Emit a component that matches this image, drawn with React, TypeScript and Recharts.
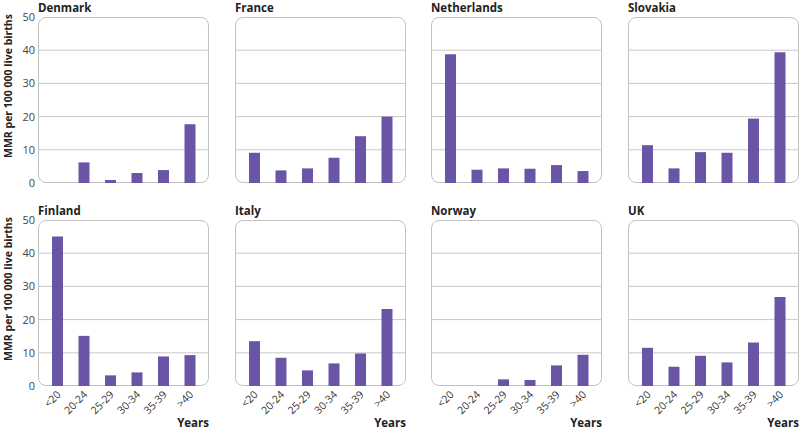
import { BarChart, Bar, XAxis, YAxis, CartesianGrid, Label } from 'recharts';

const ageGroups = ['<20', '20-24', '25-29', '30-34', '35-39', '>40'];
const yTicks = [0, 10, 20, 30, 40, 50];

const denmark = [null, 6.2, 0.9, 3.0, 3.9, 17.7];
const france = [9.1, 3.8, 4.4, 7.6, 14.1, 20.0];
const netherlands = [38.8, 4.0, 4.4, 4.3, 5.4, 3.6];
const slovakia = [11.4, 4.4, 9.3, 9.1, 19.4, 39.4];
const finland = [45.0, 15.1, 3.2, 4.1, 8.9, 9.3];
const italy = [13.5, 8.5, 4.7, 6.8, 9.8, 23.2];
const norway = [null, null, 2.0, 1.8, 6.2, 9.4];
const uk = [11.5, 5.8, 9.1, 7.1, 13.1, 26.8];

const panels = [
  { name: 'Denmark', values: denmark },
  { name: 'France', values: france },
  { name: 'Netherlands', values: netherlands },
  { name: 'Slovakia', values: slovakia },
  { name: 'Finland', values: finland },
  { name: 'Italy', values: italy },
  { name: 'Norway', values: norway },
  { name: 'UK', values: uk },
];

const FONT = '"Open Sans", sans-serif';
const PURPLE = '#6a54a5';
const BOX_W = 171;
const BOX_H = 166;
const COL_X = [38, 235, 431, 628];
const ROW_Y = [17, 220];
const Y_AXIS_W = 38;
const TOP_PAD = 8;

const YLabel = ({ viewBox }: any) => {
  const cx = viewBox.x + 8;
  const cy = viewBox.y + viewBox.height / 2 - 14;
  return (
    <text
      x={cx}
      y={cy}
      transform={`rotate(-90 ${cx} ${cy})`}
      textAnchor="middle"
      dominantBaseline="central"
      fontSize={10.5}
      fontWeight={700}
      fill="#222"
      fontFamily={FONT}
    >
      MMR per 100 000 live births
    </text>
  );
};

const Panel = ({ name, values, index }: { name: string; values: (number | null)[]; index: number }) => {
  const col = index % 4;
  const row = Math.floor(index / 4);
  const first = col === 0;
  const bottom = row === 1;
  const data = ageGroups.map((age, i) => ({ age, mmr: values[i] }));
  const axisW = first ? Y_AXIS_W : 0;
  const xAxisH = bottom ? 41 : 0;
  const width = axisW + BOX_W + 6;
  const height = TOP_PAD + BOX_H + (bottom ? xAxisH + 3 : 8);
  const left = COL_X[col] - axisW;
  const top = ROW_Y[row] - TOP_PAD;

  return (
    <>
      <div
        style={{
          position: 'absolute',
          left: COL_X[col],
          top: ROW_Y[row] - 15,
          fontSize: 11.5,
          lineHeight: '12px',
          fontWeight: 700,
          color: '#222',
          fontFamily: FONT,
        }}
      >
        {name}
      </div>
      <div
        style={{
          position: 'absolute',
          left: COL_X[col],
          top: ROW_Y[row],
          width: BOX_W,
          height: BOX_H,
          border: '1px solid #c2c2c2',
          borderRadius: 8,
          boxSizing: 'border-box',
        }}
      />
      <div style={{ position: 'absolute', left, top }}>
        <BarChart
          width={width}
          height={height}
          data={data}
          margin={{ top: TOP_PAD, right: 6, left: 0, bottom: bottom ? 3 : 8 }}
          barCategoryGap={0}
        >
          <CartesianGrid vertical={false} horizontalValues={[10, 20, 30, 40]} stroke="#c8c8c8" />
          <XAxis
            dataKey="age"
            hide={!bottom}
            height={xAxisH}
            padding={{ left: 6, right: 6 }}
            axisLine={false}
            tickLine={false}
            tickSize={0}
            tickMargin={4}
            interval={0}
            tick={{ angle: -45, textAnchor: 'end', fontSize: 10.5, fill: '#333', fontFamily: FONT, dx: -1 }}
          >
            {bottom && (
              <Label
                value="Years"
                position="insideBottomRight"
                offset={0}
                style={{ fontSize: 11.5, fontWeight: 700, fill: '#222', fontFamily: FONT }}
              />
            )}
          </XAxis>
          <YAxis
            domain={[0, 50]}
            ticks={yTicks}
            hide={!first}
            width={axisW}
            axisLine={false}
            tickLine={false}
            tickSize={0}
            tickMargin={3}
            tick={{ fontSize: 11, fill: '#444', fontFamily: FONT }}
          >
            {first && <Label content={<YLabel />} />}
          </YAxis>
          <Bar dataKey="mmr" fill={PURPLE} barSize={11} isAnimationActive={false} />
        </BarChart>
      </div>
    </>
  );
};

export default function App() {
  return (
    <div style={{ position: 'absolute', left: 0, top: 0, width: 800, height: 430, background: '#fff' }}>
      {panels.map((p, i) => (
        <Panel key={p.name} name={p.name} values={p.values} index={i} />
      ))}
    </div>
  );
}
